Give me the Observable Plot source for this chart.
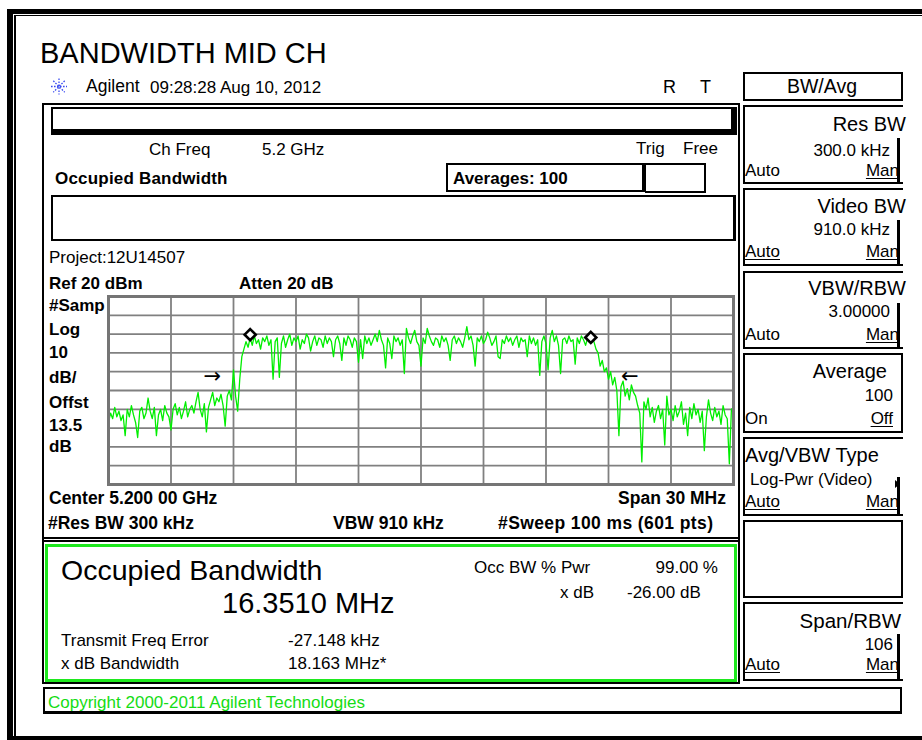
<!DOCTYPE html>
<html><head><meta charset="utf-8">
<script src="https://cdn.jsdelivr.net/npm/d3@7"></script>
<script src="https://cdn.jsdelivr.net/npm/@observablehq/plot@0.6"></script>
<style>
html,body{margin:0;padding:0;background:#fff;overflow:hidden;}
#root{position:relative;width:922px;height:740px;overflow:hidden;font-family:"Liberation Sans",Arial,sans-serif;color:#000;background:#fff;}
.b{position:absolute;box-sizing:border-box;border-style:solid;border-color:#000;}
.t{position:absolute;white-space:nowrap;line-height:1;}
</style></head><body><div id="root"></div>
<script>
const centerMHz = 5200;
const spanMHz = 30;
const startMHz = 5185;
const stepMHz = 0.1; // 301 displayed points across the 30 MHz span
const traceDbm = [
 -47,-42,-45,-39,-44,-41,-46,-43,-54,-40,
 -44,-38,-43,-47,-55,-41,-39,-45,-42,-34,
 -41,-45,-39,-54,-43,-40,-46,-38,-42,-44,
 -51,-40,-37,-43,-39,-45,-41,-36,-44,-40,
 -38,-42,-36,-31,-40,-44,-37,-52,-39,-35,
 -31,-38,-34,-36,-32,-38,-49,-33,-30,-35,
 -19,-33,-41,-24,-12,-8,-4,-7,-2,-6,
 -1,-5,-3,-8,-2,-4,-1,-6,-3,-24,
 -4,-2,-23,-5,-1,-7,-3,0,-6,-2,
 -4,-1,-8,-3,-5,0,-2,-9,-4,-1,
 -6,-2,-3,-7,-1,-5,-2,-4,-12,-3,
 -1,-5,-14,-2,-6,-1,-3,-7,-2,-4,
 -15,-3,-13,-1,-5,-2,-6,-3,0,-4,
 2,-3,-6,-18,-2,-5,-13,-1,-4,-2,
 -6,-3,-21,3,-2,-5,-1,2,-4,-6,
 -17,-2,-5,3,-1,-4,-6,-2,-3,-7,
 -1,-4,-2,-6,-14,-3,-1,-5,-2,-4,
 -7,-2,4,-3,-1,-6,-17,-2,-4,-1,
 -5,-3,1,-2,-6,-4,-1,-12,-13,-3,
 -5,-1,-4,-2,-6,-3,-1,-7,-2,-4,
 -3,-12,-1,-5,-2,-6,-3,-22,-4,-1,
 -5,-19,-2,2,-4,-1,-6,-21,-3,-2,
 -5,-1,-4,-3,-16,-2,-5,-1,-3,-6,
 -2,-1,-3,-4,-8,-10,-17,-14,-20,-18,
 -24,-20,-27,-23,-30,-54,-28,-25,-33,-29,
 -35,-27,-31,-33,-38,-42,-68,-36,-40,-34,
 -44,-39,-47,-41,-38,-45,-40,-59,-33,-43,
 -40,-46,-38,-44,-41,-36,-48,-42,-54,-39,
 -45,-37,-43,-40,-47,-41,-62,-44,-35,-42,
 -46,-39,-44,-41,-48,-38,-43,-45,-69,-40,
 -39
];
const xGridMHz = [5185,5188,5191,5194,5197,5200,5203,5206,5209,5212,5215];
const yGridDbm = [20,10,0,-10,-20,-30,-40,-50,-60,-70,-80];
const markerFreq = [5191.80, 5208.15];
const markerLevel = [-0.3, -1.8];
const arrowFreq = [5190.4, 5209.6];
const arrowLevel = [-22.5, -22.5];
const arrowGlyph = ["→", "←"];

const root = document.getElementById("root");
function box(l,t,r,b,bw,color){
  const d=document.createElement("div"); d.className="b";
  Object.assign(d.style,{left:l+"px",top:t+"px",width:(r-l)+"px",height:(b-t)+"px",
    borderWidth:bw.map(v=>v+"px").join(" "),borderColor:color||"#000"});
  root.appendChild(d); return d;
}
function txt(s,x,bl,size,o={}){
  const d=document.createElement("div"); d.className="t"; d.textContent=s;
  d.style.fontSize=size+"px"; d.style.top=(bl-0.85*size)+"px";
  if(o.bold) d.style.fontWeight="bold";
  if(o.color) d.style.color=o.color;
  if(o.u){ d.style.textDecoration="underline"; d.style.textUnderlineOffset="2px"; }
  if(o.ls) d.style.letterSpacing=o.ls+"px";
  if(o.font) d.style.fontFamily=o.font;
  if(o.anchor==="end") d.style.right=(922-x)+"px";
  else if(o.anchor==="middle"){ d.style.left=x+"px"; d.style.transform="translateX(-50%)"; }
  else d.style.left=x+"px";
  root.appendChild(d); return d;
}
function rect(l,t,w,h,c){ const d=document.createElement("div");
  d.style.cssText=`position:absolute;left:${l}px;top:${t}px;width:${w}px;height:${h}px;background:${c||"#000"};`; root.appendChild(d); return d; }
function hline(l,r,t,h){ return rect(l,t,r-l,h); }
function vline(x,t,b,w){ return rect(x,t,w,b-t); }

// outer frame (open to the right)
hline(7,930,9,4.5);
vline(7,9,740,5.5);
hline(7,930,736,4);
hline(13.7,930,14.7,1.5);
vline(13.7,14.7,736,2);

// header
txt("BANDWIDTH MID CH",40,64,29);
const logo=document.createElement("div");
logo.style.cssText="position:absolute;left:49px;top:77px;width:20px;height:19px;";
logo.innerHTML='<svg width="20" height="19" viewBox="0 0 20 19"><g stroke="#3a4cf0" stroke-width="1.3" stroke-dasharray="1.6 1.4" fill="none"><line x1="2" y1="9.5" x2="18" y2="9.5"/><line x1="10" y1="1.5" x2="10" y2="17.5"/><line x1="4.3" y1="3.8" x2="15.7" y2="15.2"/><line x1="15.7" y1="3.8" x2="4.3" y2="15.2"/></g></svg>';
root.appendChild(logo);
txt("Agilent",86,93,17.5);
txt("09:28:28  Aug 10, 2012",150,93,17);
txt("R",663,93,18);
txt("T",700,93,18);

// main display panel
box(42,103,739.5,684,[2.5,2,2,2.5]);
box(51,107,736.5,134.5,[2,6,6,2]);
txt("Ch Freq",149,155,17);
txt("5.2 GHz",262,155,17);
txt("Trig",636,154,17);
txt("Free",683,154,17);
txt("Occupied Bandwidth",55,184,17,{bold:true,ls:0.2});
box(446,163,646,192,[2,4,2.5,2]);
box(645,163,706,193,[2,2,2.5,1]);
txt("Averages: 100",453,184,17,{bold:true});
box(51,194.5,735.5,241,[2,3,2.5,2]);
txt("Project:12U14507",49,263,17);
txt("Ref 20 dBm",49,289,17,{bold:true});
txt("Atten 20 dB",239,289,17,{bold:true});
[["#Samp",311],["Log",335],["10",358],["dB/",383],["Offst",408],["13.5",431],["dB",452]]
  .forEach(([s,bl])=>txt(s,49,bl,17,{bold:true}));
txt("Center 5.200 00 GHz",49,505,17.5,{bold:true});
txt("Span 30 MHz",726,505,17.5,{bold:true,anchor:"end"});
txt("#Res BW 300 kHz",48,530,17.5,{bold:true});
txt("VBW 910 kHz",333,530,17.5,{bold:true});
txt("#Sweep 100 ms (601 pts)",498,530,17.5,{bold:true,ls:0.4});
hline(43,739,536.5,2);
hline(43,739,540.2,1.5);

// results box
box(45,543.5,736.5,682,[3,3,3,3],"#1ee81e");
txt("Occupied Bandwidth",61,580,28.5);
txt("16.3510 MHz",222,614,29);
txt("Occ BW % Pwr",474,573,17);
txt("99.00 %",718,573,17,{anchor:"end"});
txt("x dB",594,598,17,{anchor:"end"});
txt("-26.00 dB",627,598,17);
txt("Transmit Freq Error",61,646,17);
txt("-27.148 kHz",288,646,17);
txt("x dB Bandwidth",61,669,17);
txt("18.163 MHz*",288,669,17);

// status bar
box(43,687,902,714,[2,2,3,2]);
txt("Copyright 2000-2011 Agilent Technologies",48,708.5,17,{color:"#14dc14"});

// soft keys
box(742.5,71.5,903,100.5,[2,2,2.5,2]);
txt("BW/Avg",822,94,19.5,{anchor:"middle"});
function key(T,B,rightSeg){
  box(742.5,T,902.5,B,[2,0,2.5,2]);
  if(rightSeg) vline(897,T+rightSeg,B,2.5);
  else vline(900.5,T,B,2);
}
key(105,183.5,33);
txt("Res BW",906,131,20,{anchor:"end"});
txt("300.0 kHz",890,156,17,{anchor:"end"});
txt("Auto",745,176,17);
txt("Man",899,176,17,{anchor:"end",u:true});

key(188,266,32);
txt("Video BW",906,213,20,{anchor:"end"});
txt("910.0 kHz",890,235,17,{anchor:"end"});
txt("Auto",745,257,17,{u:true});
txt("Man",899,257,17,{anchor:"end",u:true});

key(270.5,348.5,32);
txt("VBW/RBW",906,295,20,{anchor:"end"});
txt("3.00000",890,317,17,{anchor:"end"});
txt("Auto",745,340,17);
txt("Man",899,340,17,{anchor:"end",u:true});

key(352.5,432.5,0);
txt("Average",887,378,20,{anchor:"end"});
txt("100",893,401.5,17,{anchor:"end"});
txt("On",745,424,17);
txt("Off",893,424,17,{anchor:"end",u:true});

key(436.5,515.5,40);
txt("Avg/VBW Type",745,462,20);
txt("Log-Pwr (Video)",750,485,17);
const tri=document.createElement("div");
tri.style.cssText="position:absolute;left:895px;top:474px;width:6px;height:8px;";
tri.innerHTML='<svg width="6" height="8"><polygon points="0,0 5,4 0,8" fill="#000"/></svg>';
root.appendChild(tri);
txt("Auto",745,507,17,{u:true});
txt("Man",899,507,17,{anchor:"end",u:true});

key(519.5,598,0);

key(601.5,680.5,32);
txt("Span/RBW",901,628,20.5,{anchor:"end"});
txt("106",893,650,17,{anchor:"end"});
txt("Auto",745,670,17,{u:true});
txt("Man",899,670,17,{anchor:"end",u:true});

// ---- the trace ----
const trace = traceDbm.map((v,i)=>({f:startMHz+i*stepMHz, dbm:v}));
const markers = markerFreq.map((f,i)=>({f, dbm:markerLevel[i]}));
const arrows = arrowFreq.map((f,i)=>({f, dbm:arrowLevel[i], t:arrowGlyph[i]}));
const chart = Plot.plot({
  width:633, height:196, marginTop:4, marginRight:4, marginBottom:4, marginLeft:4,
  x:{domain:[centerMHz-spanMHz/2, centerMHz+spanMHz/2], axis:null},
  y:{domain:[-80,20], axis:null},
  style:{background:"transparent", overflow:"visible"},
  marks:[
    Plot.ruleX(xGridMHz,{stroke:"#808080", strokeWidth:1.8}),
    Plot.ruleY(yGridDbm,{stroke:"#808080", strokeWidth:1.8}),
    Plot.line(trace,{x:"f", y:"dbm", stroke:"#00ee00", strokeWidth:1.3}),
    Plot.frame({stroke:"#757575", strokeWidth:3}),
    Plot.dot(markers,{x:"f", y:"dbm", symbol:"diamond2", r:5, stroke:"#000", strokeWidth:2.6, fill:"#fff"}),
    Plot.text(arrows.filter(d=>d.t==="→"),{x:"f", y:"dbm", text:"t", textAnchor:"end", fontSize:21, fill:"#000", fontFamily:"DejaVu Sans"}),
    Plot.text(arrows.filter(d=>d.t==="←"),{x:"f", y:"dbm", text:"t", textAnchor:"start", fontSize:21, fill:"#000", fontFamily:"DejaVu Sans"})
  ]
});
chart.style.position="absolute";
chart.style.left="104px";
chart.style.top="292px";
root.appendChild(chart);

// keep the right margin (beyond the soft keys) clear
rect(909,17,13,718,"#fff");
</script></body></html>
